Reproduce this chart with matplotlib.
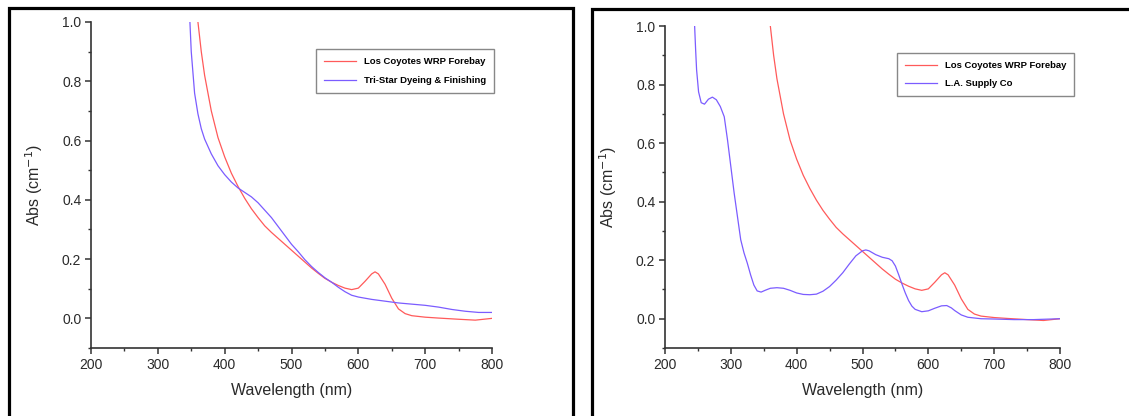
import matplotlib
matplotlib.use("Agg")
import matplotlib.pyplot as plt
from matplotlib.patches import Rectangle
from matplotlib.ticker import MultipleLocator

plt.rcParams['font.family'] = ['Liberation Sans', 'DejaVu Sans']

# Los Coyotes WRP Forebay (same sample in both panels)
wl_lc = [360, 365, 370, 375, 380, 390, 400, 410, 420, 430, 440, 450, 460, 470, 480,
         490, 500, 510, 520, 530, 540, 550, 560, 570, 580, 590, 600, 610, 620, 625,
         630, 640, 650, 660, 670, 680, 700, 720, 750, 775, 800]
abs_lc = [1.0, 0.90, 0.82, 0.76, 0.70, 0.61, 0.545, 0.49, 0.445, 0.405, 0.37, 0.34,
          0.312, 0.29, 0.27, 0.25, 0.23, 0.21, 0.19, 0.17, 0.152, 0.135, 0.122, 0.111,
          0.102, 0.097, 0.102, 0.125, 0.150, 0.157, 0.150, 0.115, 0.068, 0.032, 0.016,
          0.009, 0.004, 0.001, -0.003, -0.006, 0.0]

# Tri-Star Dyeing & Finishing
wl_ts = [348, 350, 355, 360, 365, 370, 380, 390, 400, 410, 420, 430, 440, 450, 460,
         470, 480, 490, 500, 510, 520, 530, 540, 550, 560, 570, 580, 590, 600, 620,
         640, 660, 680, 700, 720, 740, 760, 780, 800]
abs_ts = [1.0, 0.90, 0.76, 0.69, 0.64, 0.605, 0.555, 0.515, 0.485, 0.46, 0.44, 0.425,
          0.41, 0.39, 0.365, 0.34, 0.31, 0.28, 0.25, 0.225, 0.198, 0.175, 0.155, 0.137,
          0.122, 0.105, 0.09, 0.078, 0.072, 0.064, 0.058, 0.052, 0.048, 0.044, 0.038,
          0.03, 0.024, 0.02, 0.02]

# L.A. Supply Co
wl_la = [245, 246.5, 248, 251, 255, 260, 266, 272, 278, 284, 290, 295, 300, 305, 310,
         315, 320, 325, 330, 335, 340, 346, 352, 360, 370, 380, 390, 400, 410, 420,
         430, 440, 450, 460, 470, 480, 490, 500, 505, 510, 520, 530, 540, 545, 550,
         555, 560, 565, 570, 575, 580, 590, 600, 610, 620, 628, 635, 640, 650, 660,
         680, 700, 730, 760, 800]
abs_la = [1.0, 0.92, 0.85, 0.775, 0.738, 0.733, 0.75, 0.757, 0.748, 0.725, 0.69, 0.61,
          0.52, 0.43, 0.35, 0.27, 0.225, 0.19, 0.15, 0.115, 0.095, 0.091, 0.097, 0.104,
          0.106, 0.104, 0.097, 0.088, 0.083, 0.082, 0.084, 0.094, 0.11, 0.132, 0.157,
          0.187, 0.215, 0.232, 0.235, 0.232, 0.219, 0.21, 0.205, 0.198, 0.18, 0.15,
          0.118, 0.088, 0.062, 0.043, 0.032, 0.024, 0.027, 0.036, 0.044, 0.045, 0.037,
          0.028, 0.013, 0.005, 0.0, -0.001, -0.003, -0.003, 0.0]

RED = '#ff5a5a'
BLUE = '#7b5cff'
TXT = '#2a2a2a'

fig = plt.figure(figsize=(11.29, 4.16), dpi=100)
W, H = 1129, 416


def style_axes(ax):
    ax.set_xlim(200, 800)
    ax.set_ylim(-0.1, 1.0)
    ax.xaxis.set_major_locator(MultipleLocator(100))
    ax.xaxis.set_minor_locator(MultipleLocator(50))
    ax.yaxis.set_major_locator(MultipleLocator(0.2))
    ax.yaxis.set_minor_locator(MultipleLocator(0.1))
    ax.yaxis.set_major_formatter(plt.FormatStrFormatter('%.1f'))
    for s in ['top', 'right']:
        ax.spines[s].set_visible(False)
    for s in ['left', 'bottom']:
        ax.spines[s].set_color('#333333')
        ax.spines[s].set_linewidth(1.2)
    ax.tick_params(which='major', direction='out', length=4, width=1.1,
                   color='#333333', labelsize=10, labelcolor=TXT, pad=3)
    ax.tick_params(which='minor', direction='out', length=2.5, width=1.0,
                   color='#333333')
    ax.set_xlabel('Wavelength (nm)', fontsize=11.5, color=TXT, labelpad=8)
    ax.set_ylabel('Abs (cm$^{-1}$)', fontsize=11.5, color=TXT, labelpad=12)


ax1 = fig.add_axes([91 / W, 1 - 348 / H, (492 - 91) / W, (348 - 22) / H])
ax1.plot(wl_lc, abs_lc, color=RED, lw=0.9, label='Los Coyotes WRP Forebay')
ax1.plot(wl_ts, abs_ts, color=BLUE, lw=0.9, label='Tri-Star Dyeing & Finishing')
style_axes(ax1)
ax1.legend(loc='upper left', bbox_to_anchor=(316 / W, 1 - 49 / H),
           bbox_transform=fig.transFigure, borderaxespad=0, fancybox=False,
           edgecolor='#888888', framealpha=1, handlelength=3.4, labelspacing=1.05,
           prop={'size': 6.8, 'weight': 'bold'}, borderpad=0.85)

ax2 = fig.add_axes([665 / W, 1 - 348 / H, (1060 - 665) / W, (348 - 26) / H])
ax2.plot(wl_lc, abs_lc, color=RED, lw=0.9, label='Los Coyotes WRP Forebay')
ax2.plot(wl_la, abs_la, color=BLUE, lw=0.9, label='L.A. Supply Co')
style_axes(ax2)
ax2.legend(loc='upper left', bbox_to_anchor=(897 / W, 1 - 53 / H),
           bbox_transform=fig.transFigure, borderaxespad=0, fancybox=False,
           edgecolor='#888888', framealpha=1, handlelength=3.4, labelspacing=0.95,
           prop={'size': 6.8, 'weight': 'bold'}, borderpad=0.85)

# thick panel frames
fig.patches.append(Rectangle((8.5 / W, -0.1), (572.5 - 8.5) / W, 1.1 - 8 / H,
                             transform=fig.transFigure, fill=False, lw=2.3, ec='black'))
fig.patches.append(Rectangle((591.5 / W, -0.1), 0.5, 1.1 - 9 / H,
                             transform=fig.transFigure, fill=False, lw=2.3, ec='black'))

fig.savefig('out.png', dpi=100)
